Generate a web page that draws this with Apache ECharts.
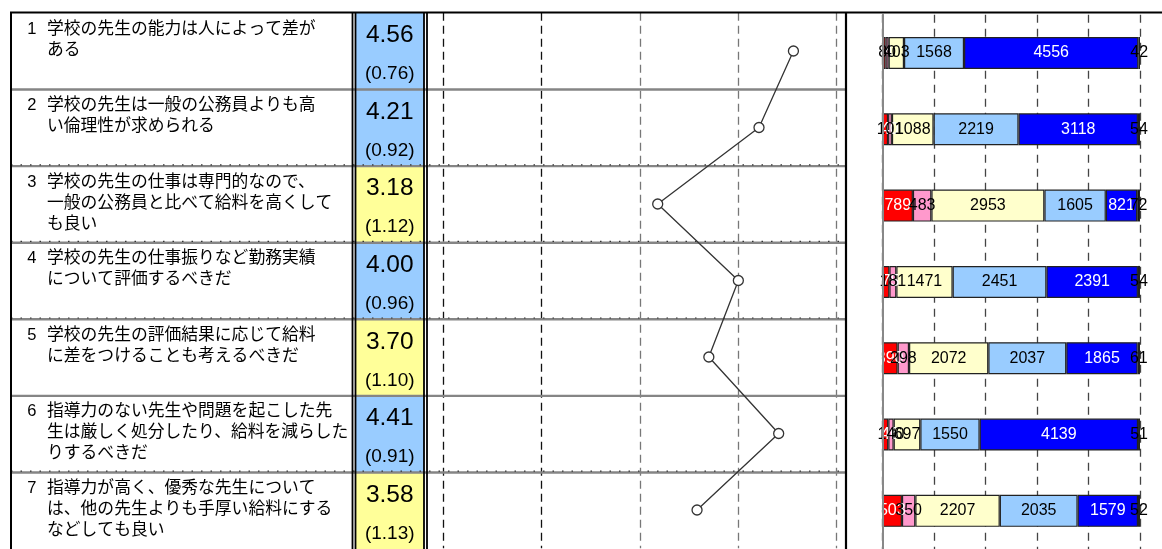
<!DOCTYPE html>
<html><head><meta charset="utf-8">
<script src="https://cdn.jsdelivr.net/npm/echarts@6/dist/echarts.min.js"></script>
<style>html,body{margin:0;padding:0;background:#fff}#c{width:1162px;height:549px}</style>
</head><body><div id="c"></div>
<script>
// ---- data ----
const itemNo = ['1','2','3','4','5','6','7'];
const items = [
  '学校の先生の能力は人によって差が\nある',
  '学校の先生は一般の公務員よりも高\nい倫理性が求められる',
  '学校の先生の仕事は専門的なので、\n一般の公務員と比べて給料を高くして\nも良い',
  '学校の先生の仕事振りなど勤務実績\nについて評価するべきだ',
  '学校の先生の評価結果に応じて給料\nに差をつけることも考えるべきだ',
  '指導力のない先生や問題を起こした先\n生は厳しく処分したり、給料を減らした\nりするべきだ',
  '指導力が高く、優秀な先生について\nは、他の先生よりも手厚い給料にする\nなどしても良い'
];
const means = [4.56, 4.21, 3.18, 4.00, 3.70, 4.41, 3.58];
const sds   = [0.76, 0.92, 1.12, 0.96, 1.10, 0.91, 1.13];
const cnt1  = [74, 140, 789, 175, 390, 146, 503];
const cnt2  = [80, 101, 483, 181, 298, 140, 350];
const cnt3  = [403, 1088, 2953, 1471, 2072, 697, 2207];
const cnt4  = [1568, 2219, 1605, 2451, 2037, 1550, 2035];
const cnt5  = [4556, 3118, 821, 2391, 1865, 4139, 1579];
const cntNA = [42, 54, 72, 54, 61, 51, 52];
const lineTicks = [1, 2, 3, 4, 5];

// ---- layout / style ----
const FONT = '"Liberation Sans","Noto Sans CJK JP",sans-serif';
const TOP = 13, ROWH = 77.7, N = items.length, TABLEH = ROWH * N;
const dottedSep = [false, true, true, true, false, true];
const cats = itemNo.slice();
const counts = [cnt1, cnt2, cnt3, cnt4, cnt5, cntNA];
const totals = cats.map((_, i) => counts.reduce((s, a) => s + a[i], 0));
const segColors = ['#ff0000', '#ff99cc', '#ffffcc', '#99ccff', '#0000ff', '#000000'];
const segLabelColors = ['#fff', '#000', '#000', '#000', '#fff', '#000'];

const chart = echarts.init(document.getElementById('c'));

function hiddenX(i, extra) { return Object.assign({gridIndex: i, type: 'value', min: 0, max: 1, show: false}, extra || {}); }
function catY(i, extra) { return Object.assign({gridIndex: i, type: 'category', data: cats, inverse: true, show: false}, extra || {}); }

const barSeries = counts.map((arr, s) => ({
  type: 'bar', name: 'c' + s, stack: 'all', xAxisIndex: 3, yAxisIndex: 3,
  barWidth: 32, z: 4,
  data: arr.map((v, i) => v / totals[i] * 100),
  itemStyle: {color: segColors[s], borderColor: '#222', borderWidth: 1.2},
  label: {show: true, position: 'inside', formatter: p => String(arr[p.dataIndex]),
    fontSize: 16, fontFamily: FONT, color: segLabelColors[s], textBorderWidth: 0}
}));

chart.setOption({
  animation: false,
  grid: [
    {left: 11, width: 835, top: TOP, height: TABLEH},          // table frame & text
    {left: 355.5, width: 68.5, top: TOP, height: TABLEH},      // means column
    {left: 443.3, width: 393.4, top: 12.75, height: 535.5},    // mean line plot
    {left: 882.7, width: 257.3, top: 14.85, height: 543.9}     // stacked bars
  ],
  xAxis: [
    hiddenX(0), hiddenX(1),
    {gridIndex: 2, type: 'value', min: lineTicks[0], max: lineTicks[lineTicks.length - 1], interval: 1,
      axisLine: {show: false}, axisTick: {show: false}, axisLabel: {show: false},
      splitLine: {show: true, lineStyle: {type: [8, 5], width: 1.3, color: ['#111', '#111', '#777', '#777', '#777']}}},
    {gridIndex: 3, type: 'value', min: 0, max: 100, interval: 20,
      axisLine: {show: false}, axisTick: {show: false}, axisLabel: {show: false},
      splitLine: {show: true, lineStyle: {type: [8, 6], width: 1.3, color: '#444'}}}
  ],
  yAxis: [
    catY(0), catY(1), catY(2),
    {gridIndex: 3, type: 'category', data: cats, inverse: true, z: 6,
      axisLine: {show: true, lineStyle: {color: '#888', width: 2}}, axisTick: {show: false}, axisLabel: {show: false}}
  ],
  series: [
    // text column
    {type: 'custom', xAxisIndex: 0, yAxisIndex: 0, z: 4, silent: true,
      data: cats.map((c, i) => [0, i]),
      renderItem: (params, api) => {
        const i = api.value(1), cs = params.coordSys;
        const top = api.coord([0, i])[1] - api.size([0, 1])[1] / 2;
        return {type: 'group', children: [
          {type: 'text', style: {text: itemNo[i], x: cs.x + 25.5, y: top + 5.5, align: 'right', verticalAlign: 'top',
            fontSize: 16.5, fontFamily: FONT, fill: '#000', lineHeight: 21}},
          {type: 'text', style: {text: items[i], x: cs.x + 36, y: top + 5.5, align: 'left', verticalAlign: 'top',
            fontSize: 16.8, fontFamily: FONT, fill: '#000', lineHeight: 21}}
        ]};
      }},
    // means column
    {type: 'custom', xAxisIndex: 1, yAxisIndex: 1, z: 1, silent: true,
      data: means.map((m, i) => [0, i, m, sds[i]]),
      renderItem: (params, api) => {
        const i = api.value(1), m = api.value(2), sd = api.value(3), cs = params.coordSys;
        const h = api.size([0, 1])[1];
        const top = api.coord([0, i])[1] - h / 2;
        const cx = cs.x + cs.width / 2;
        return {type: 'group', children: [
          {type: 'rect', shape: {x: cs.x, y: top, width: cs.width, height: h},
            style: {fill: m >= 4 ? '#99ccff' : '#ffff99'}},
          {type: 'text', style: {text: m.toFixed(2), x: cx, y: top + 22.5, align: 'center', verticalAlign: 'middle',
            fontSize: 24.5, fontFamily: FONT, fill: '#000'}},
          {type: 'text', style: {text: '(' + sd.toFixed(2) + ')', x: cx, y: top + 61, align: 'center', verticalAlign: 'middle',
            fontSize: 19, fontFamily: FONT, fill: '#000'}}
        ]};
      }},
    // row separators
    {type: 'custom', xAxisIndex: 0, yAxisIndex: 0, z: 3, silent: true,
      data: cats.slice(1).map((c, k) => [0, k + 1]),
      renderItem: (params, api) => {
        const i = api.value(1), cs = params.coordSys;
        const y = api.coord([0, i])[1] - api.size([0, 1])[1] / 2;
        const ch = [{type: 'line', shape: {x1: cs.x, y1: y, x2: cs.x + cs.width, y2: y},
          style: {stroke: '#858585', lineWidth: 2.4}}];
        if (dottedSep[i - 1]) ch.push({type: 'line', shape: {x1: cs.x, y1: y - 1.3, x2: cs.x + cs.width, y2: y - 1.3},
          style: {stroke: '#333', lineWidth: 1.2, lineDash: [1.5, 8]}});
        return {type: 'group', children: ch};
      }},
    // mean profile line
    {type: 'line', xAxisIndex: 2, yAxisIndex: 2, z: 5,
      data: means.map((m, i) => [m, i]),
      symbol: 'circle', symbolSize: 10,
      lineStyle: {color: '#333', width: 1.3},
      itemStyle: {color: '#fff', borderColor: '#333', borderWidth: 1.3}},
    ...barSeries
  ],
  graphic: [
    {type: 'line', z: 100, shape: {x1: 10, y1: 12.5, x2: 1162, y2: 12.5}, style: {stroke: '#000', lineWidth: 2}},
    {type: 'line', z: 100, shape: {x1: 11, y1: 12, x2: 11, y2: 549}, style: {stroke: '#000', lineWidth: 2}},
    {type: 'line', z: 100, shape: {x1: 352.5, y1: 12, x2: 352.5, y2: 549}, style: {stroke: '#000', lineWidth: 1.8}},
    {type: 'line', z: 100, shape: {x1: 355.5, y1: 12, x2: 355.5, y2: 549}, style: {stroke: '#000', lineWidth: 1.8}},
    {type: 'line', z: 100, shape: {x1: 424, y1: 12, x2: 424, y2: 549}, style: {stroke: '#000', lineWidth: 1.8}},
    {type: 'line', z: 100, shape: {x1: 427, y1: 12, x2: 427, y2: 549}, style: {stroke: '#000', lineWidth: 1.8}},
    {type: 'line', z: 100, shape: {x1: 846, y1: 12, x2: 846, y2: 549}, style: {stroke: '#000', lineWidth: 2.2}}
  ]
});
</script></body></html>
